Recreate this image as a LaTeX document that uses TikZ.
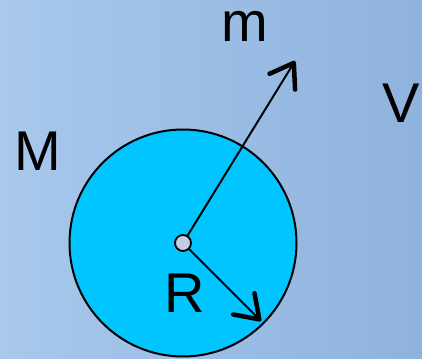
\documentclass[tikz,border=0pt]{standalone}
\usepackage{fontspec}
\setmainfont{Liberation Sans}
\usetikzlibrary{arrows.meta}
\definecolor{bgleft}{RGB}{168,200,236}
\definecolor{bgright}{RGB}{143,179,222}
\definecolor{ballblue}{RGB}{0,197,255}
\definecolor{dotfill}{RGB}{196,204,226}
\tikzset{
  vec/.style={line width=2pt, -{Straight Barb[length=22pt,width=30pt,line width=4.5pt,round]}},
  lbl/.style={font=\fontsize{56}{56}\selectfont, anchor=base, inner sep=0pt}
}
\begin{document}
\begin{tikzpicture}[x=1pt,y=-1pt]
\useasboundingbox (0,0) rectangle (422,358);
\shade[left color=bgleft, right color=bgright] (0,0) rectangle (422,358);
\node[circle, draw, fill=ballblue, line width=2pt, minimum size=227pt, inner sep=0pt] (ball) at (183,243) {};
\coordinate (mtip) at (295,61);
\coordinate (rtip) at (261,321);
\draw[vec] (183,243) -- (mtip);
\draw[vec] (183,243) -- (rtip);
\node[circle, draw, fill=dotfill, line width=1.8pt, minimum size=16pt, inner sep=0pt] (c) at (183,243) {};
\node[lbl] (M) at (38,170) {M};
\node[lbl] (m) at (244.5,42) {m};
\node[lbl] (V) at (401.5,123) {V};
\node[lbl] (R) at (185,312) {R};
\end{tikzpicture}
\end{document}
